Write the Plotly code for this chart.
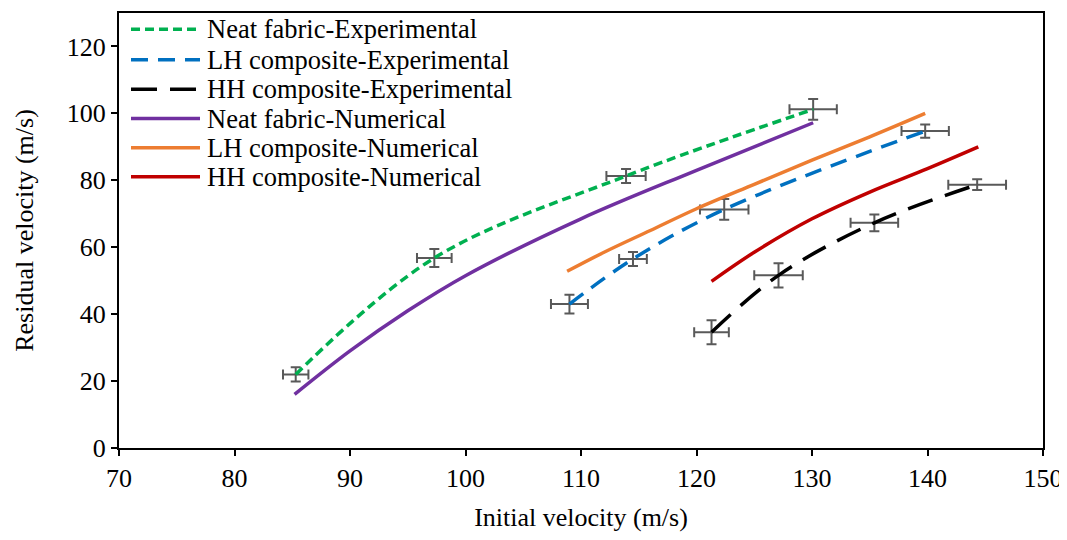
import plotly.graph_objects as go

# ---- Data ----
neat_exp_x = [85.3, 97.3, 113.9, 130.1]
neat_exp_y = [22.0, 56.8, 81.3, 101.2]
neat_exp_ex = [1.1, 1.5, 1.7, 2.05]
neat_exp_ey = [2.1, 2.7, 2.1, 3.1]

lh_exp_x = [109.0, 114.5, 122.4, 139.8]
lh_exp_y = [43.0, 56.5, 71.3, 94.7]
lh_exp_ex = [1.6, 1.2, 2.1, 2.05]
lh_exp_ey = [2.8, 2.1, 3.1, 2.0]

hh_exp_x = [121.3, 127.1, 135.4, 144.3]
hh_exp_y = [34.6, 51.6, 67.3, 78.7]
hh_exp_ex = [1.5, 2.1, 2.06, 2.5]
hh_exp_ey = [3.6, 3.6, 2.5, 1.6]

neat_num_x = [85.2, 90.0, 95.0, 100.0, 110.0, 120.0, 130.1]
neat_num_y = [16.0, 29.0, 41.0, 51.5, 68.5, 83.0, 97.2]

lh_num_x = [108.8, 112.0, 116.0, 120.0, 125.0, 130.0, 135.0, 139.8]
lh_num_y = [52.8, 58.5, 65.0, 71.5, 78.8, 86.0, 93.0, 100.0]

hh_num_x = [121.3, 125.0, 130.0, 135.0, 140.0, 144.4]
hh_num_y = [49.8, 58.5, 68.5, 76.5, 83.5, 90.0]

x_ticks = [70, 80, 90, 100, 110, 120, 130, 140, 150]
y_ticks = [0, 20, 40, 60, 80, 100, 120]

series_names = [
    "Neat fabric-Experimental", "LH composite-Experimental", "HH composite-Experimental",
    "Neat fabric-Numerical", "LH composite-Numerical", "HH composite-Numerical",
]
series_colors = ["#00B050", "#0070C0", "#000000", "#7030A0", "#ED7D31", "#C00000"]
series_dash = ["9px,5px", "17px,10px", "26px,13px", "solid", "solid", "solid"]

FONT = "Liberation Serif, Times New Roman, serif"
ERR_COLOR = "#595959"
LW = 3.5

fig = go.Figure()

# error bars (experimental)
for xs, ys, ex, ey in [
    (neat_exp_x, neat_exp_y, neat_exp_ex, neat_exp_ey),
    (lh_exp_x, lh_exp_y, lh_exp_ex, lh_exp_ey),
    (hh_exp_x, hh_exp_y, hh_exp_ex, hh_exp_ey),
]:
    fig.add_trace(go.Scatter(
        x=xs, y=ys, mode="markers",
        marker=dict(size=2, opacity=0),
        error_x=dict(type="data", array=ex, visible=True, color=ERR_COLOR, thickness=2, width=5),
        error_y=dict(type="data", array=ey, visible=True, color=ERR_COLOR, thickness=2, width=5),
        showlegend=False, hoverinfo="skip",
    ))

data_xy = [
    (neat_exp_x, neat_exp_y),
    (lh_exp_x, lh_exp_y),
    (hh_exp_x, hh_exp_y),
    (neat_num_x, neat_num_y),
    (lh_num_x, lh_num_y),
    (hh_num_x, hh_num_y),
]
for (xs, ys), name, col, dash in zip(data_xy, series_names, series_colors, series_dash):
    fig.add_trace(go.Scatter(x=xs, y=ys, mode="lines", name=name, showlegend=False,
                             line=dict(color=col, width=LW, dash=dash, shape="spline", smoothing=1.0)))

# page body has an 8px margin; figure is laid out in its own coordinates
OFF = 8
W, H = 1067 - OFF, 540 - 2 * OFF
PL, PR, PT, PB = 119 - OFF, 1043 - OFF, 13 - OFF, 448 - OFF

def px_x(px):
    return (px - OFF - PL) / (PR - PL)

def px_y(py):
    return (PB - (py - OFF)) / (PB - PT)

# ---- in-plot legend (Excel style) ----
row_y = [29.3, 59.8, 89.3, 118.5, 147.8, 176.8]
for i, (name, col, dash) in enumerate(zip(series_names, series_colors, series_dash)):
    yy = px_y(row_y[i])
    fig.add_shape(type="line", xref="paper", yref="paper",
                  x0=px_x(131), x1=px_x(200), y0=yy, y1=yy,
                  line=dict(color=col, width=LW, dash=dash))
    fig.add_annotation(xref="paper", yref="paper", x=px_x(205), y=yy,
                       xanchor="left", yanchor="middle", showarrow=False,
                       text=name, font=dict(family=FONT, size=26.5, color="black"))

axis_common = dict(
    showgrid=False, zeroline=False, showline=True, linecolor="black", linewidth=2,
    mirror=True, ticks="outside", ticklen=6, tickwidth=1.5, tickcolor="black",
    tickfont=dict(family=FONT, size=26, color="black"), automargin=False,
    ticklabeloverflow="allow",
)

fig.update_xaxes(range=[70, 150], tickvals=x_ticks, ticktext=[str(v) for v in x_ticks],
                 title=dict(text="Initial velocity (m/s)", font=dict(family=FONT, size=26, color="black"), standoff=20),
                 **axis_common)
fig.update_yaxes(range=[0, 130], tickvals=y_ticks, ticktext=[str(v) for v in y_ticks],
                 title=dict(text="Residual velocity (m/s)", font=dict(family=FONT, size=26, color="black"), standoff=26),
                 **axis_common)

fig.update_layout(
    width=W, height=H,
    margin=dict(l=PL, r=W - PR, t=PT, b=H - PB),
    paper_bgcolor="white", plot_bgcolor="white",
    font=dict(family=FONT, color="black"),
    showlegend=False,
)

fig.write_html("out.html")
